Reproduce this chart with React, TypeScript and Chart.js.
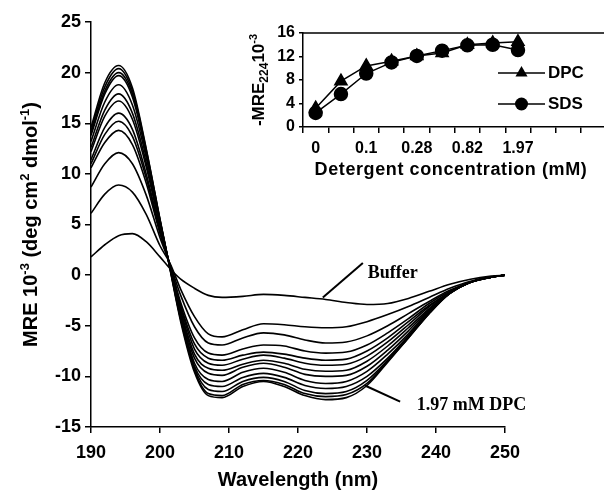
import React, { useEffect, useRef } from 'react';
import { Chart, registerables } from 'chart.js';
Chart.register(...registerables);

// ---------- Main CD spectra ----------
const wavelengths = [190, 192, 194, 196, 198, 200, 201.5, 203, 205, 207, 209, 212, 215, 218, 221, 224, 227, 230, 233, 236, 239, 242, 245, 248, 250];

const bufferCurve = [1.8, 3.0, 3.9, 4.1, 3.3, 1.8, 0.6, -0.4, -1.3, -2.0, -2.2, -2.1, -1.9, -2.0, -2.2, -2.4, -2.7, -2.9, -2.8, -2.3, -1.6, -0.9, -0.4, -0.1, 0];
const curve1 = [6.1, 8.0, 8.9, 8.2, 6.0, 2.9, 1.1, -1.4, -4.1, -5.8, -6.1, -5.4, -4.8, -4.9, -5.1, -5.2, -5.1, -4.6, -3.9, -3.1, -2.2, -1.3, -0.6, -0.2, 0];
const curve2 = [8.7, 11.0, 12.1, 11.0, 7.9, 3.7, 1.0, -2.0, -5.1, -6.7, -6.9, -6.2, -5.7, -5.9, -6.4, -6.7, -6.6, -6.0, -5.0, -3.8, -2.6, -1.5, -0.7, -0.2, 0];
const curve3 = [10.6, 13.1, 14.3, 12.9, 9.1, 4.1, 0.9, -2.7, -6.2, -7.7, -7.9, -7.3, -6.9, -7.0, -7.5, -7.7, -7.6, -6.9, -5.7, -4.3, -2.8, -1.6, -0.7, -0.2, 0];
const curve4 = [11.0, 13.9, 15.2, 13.7, 9.6, 4.3, 0.8, -3.0, -6.8, -8.2, -8.4, -7.9, -7.6, -7.8, -8.2, -8.4, -8.3, -7.5, -6.2, -4.6, -3.0, -1.7, -0.7, -0.2, 0];
const curve5 = [11.4, 14.6, 16.0, 14.4, 10.0, 4.5, 0.8, -3.2, -7.3, -8.7, -8.9, -8.3, -7.9, -8.2, -8.7, -8.9, -8.8, -8.0, -6.6, -4.9, -3.1, -1.7, -0.7, -0.2, 0];
const curve6 = [12.2, 15.7, 17.2, 15.4, 10.7, 4.8, 0.7, -3.5, -7.8, -9.2, -9.4, -8.8, -8.4, -8.7, -9.3, -9.5, -9.4, -8.5, -7.0, -5.2, -3.3, -1.7, -0.7, -0.2, 0];
const curve7 = [12.6, 16.3, 17.9, 16.0, 11.1, 5.0, 0.7, -3.7, -8.2, -9.7, -9.9, -9.1, -8.7, -9.1, -9.8, -10.0, -9.9, -9.0, -7.4, -5.5, -3.4, -1.8, -0.7, -0.2, 0];
const curve8 = [13.2, 17.1, 18.8, 16.8, 11.6, 5.2, 0.6, -3.9, -8.7, -10.3, -10.5, -9.6, -9.2, -9.6, -10.4, -10.7, -10.5, -9.5, -7.8, -5.8, -3.5, -1.8, -0.7, -0.2, 0];
const curve9 = [13.8, 17.9, 19.7, 17.6, 12.0, 5.3, 0.6, -4.1, -9.0, -10.8, -11.0, -10.1, -9.7, -10.1, -10.9, -11.2, -11.0, -10.0, -8.2, -6.0, -3.6, -1.8, -0.7, -0.2, 0];
const curve10 = [14.0, 18.2, 20.0, 17.9, 12.2, 5.4, 0.5, -4.3, -9.2, -11.3, -11.5, -10.5, -10.1, -10.5, -11.4, -11.7, -11.5, -10.4, -8.4, -6.1, -3.7, -1.8, -0.7, -0.2, 0];
const curve11 = [14.3, 18.6, 20.4, 18.2, 12.4, 5.5, 0.5, -4.4, -9.4, -11.7, -11.9, -10.8, -10.4, -10.8, -11.7, -12.0, -11.8, -10.7, -8.5, -6.2, -3.8, -1.8, -0.7, -0.2, 0];
const curveDPC197 = [14.6, 19.0, 20.7, 18.5, 12.5, 5.5, 0.4, -4.6, -9.6, -11.9, -12.1, -11.0, -10.5, -11.0, -11.9, -12.3, -12.1, -10.9, -8.6, -6.2, -3.8, -1.8, -0.7, -0.2, 0];

const spectra = [bufferCurve, curve1, curve2, curve3, curve4, curve5, curve6, curve7, curve8, curve9, curve10, curve11, curveDPC197];

const mainXTicks = [190, 200, 210, 220, 230, 240, 250];
const mainYTicks = [-15, -10, -5, 0, 5, 10, 15, 20, 25];

// ---------- Inset ----------
const insetLabels = ['0', '', '0.1', '', '0.28', '', '0.82', '', '1.97', '', '', ''];
const dpcValues = [3.2, 7.8, 10.4, 11.2, 12.1, 12.6, 14.0, 14.3, 14.5];
const sdsValues = [2.4, 5.6, 9.1, 11.0, 12.1, 13.0, 13.9, 14.0, 13.1];
const insetYTicks = [0, 4, 8, 12, 16];

const SANS = '"Liberation Sans", Arial, sans-serif';
const SERIF = '"Liberation Serif", "Times New Roman", serif';

type Part = { t: string; size: number; dy: number };

function drawRich(ctx: CanvasRenderingContext2D, parts: Part[], cx: number, cy: number, rotate: boolean, baseSize: number) {
  ctx.save();
  ctx.translate(cx, cy);
  if (rotate) ctx.rotate(-Math.PI / 2);
  let total = 0;
  const widths: number[] = [];
  for (const p of parts) {
    ctx.font = `bold ${p.size}px ${SANS}`;
    const w = ctx.measureText(p.t).width;
    widths.push(w);
    total += w;
  }
  let x = -total / 2;
  ctx.textAlign = 'left';
  ctx.textBaseline = 'alphabetic';
  ctx.fillStyle = '#000';
  parts.forEach((p, i) => {
    ctx.font = `bold ${p.size}px ${SANS}`;
    ctx.fillText(p.t, x, baseSize * 0.36 + p.dy);
    x += widths[i];
  });
  ctx.restore();
}

const annotations = [
  { text: 'Buffer', from: [223.6, -2.2], to: [229.4, 1.2], at: [230.1, 0.2] },
  { text: '1.97 mM DPC', from: [229.7, -10.9], to: [234.8, -12.5], at: [237.2, -12.85] },
];

const mainDecor = {
  id: 'mainDecor',
  afterDraw(chart: any) {
    const { ctx, chartArea, scales } = chart;
    const xs = scales.x, ys = scales.y;
    ctx.save();
    ctx.fillStyle = '#000';
    ctx.font = `bold 20px ${SANS}`;
    ctx.textAlign = 'center';
    ctx.textBaseline = 'middle';
    ctx.fillText('Wavelength (nm)', (chartArea.left + chartArea.right) / 2, chartArea.bottom + 53);
    ctx.restore();
    drawRich(ctx, [
      { t: 'MRE 10', size: 20, dy: 0 },
      { t: '-3', size: 13, dy: -8 },
      { t: ' (deg cm', size: 20, dy: 0 },
      { t: '2', size: 13, dy: -8 },
      { t: ' dmol', size: 20, dy: 0 },
      { t: '-1', size: 13, dy: -8 },
      { t: ')', size: 20, dy: 0 },
    ], 30, (chartArea.top + chartArea.bottom) / 2, true, 20);
    ctx.save();
    ctx.strokeStyle = '#000';
    ctx.lineWidth = 2;
    ctx.fillStyle = '#000';
    ctx.font = `bold 18px ${SERIF}`;
    ctx.textAlign = 'left';
    ctx.textBaseline = 'middle';
    for (const a of annotations) {
      ctx.beginPath();
      ctx.moveTo(xs.getPixelForValue(a.from[0]), ys.getPixelForValue(a.from[1]));
      ctx.lineTo(xs.getPixelForValue(a.to[0]), ys.getPixelForValue(a.to[1]));
      ctx.stroke();
      ctx.fillText(a.text, xs.getPixelForValue(a.at[0]), ys.getPixelForValue(a.at[1]));
    }
    ctx.restore();
  },
};

const insetDecor = {
  id: 'insetDecor',
  afterDraw(chart: any) {
    const { ctx, chartArea } = chart;
    ctx.save();
    ctx.strokeStyle = '#000';
    ctx.lineWidth = 1.5;
    ctx.beginPath();
    ctx.moveTo(chartArea.left, chartArea.top);
    ctx.lineTo(chartArea.right, chartArea.top);
    ctx.lineTo(chartArea.right, chartArea.bottom);
    ctx.stroke();
    ctx.fillStyle = '#000';
    ctx.font = `bold 18px ${SANS}`;
    (ctx as any).letterSpacing = '0.6px';
    ctx.textAlign = 'center';
    ctx.textBaseline = 'middle';
    ctx.fillText('Detergent concentration (mM)', chartArea.left + 148, chartArea.bottom + 43);
    ctx.restore();
    drawRich(ctx, [
      { t: '-MRE', size: 17, dy: 0 },
      { t: '224', size: 12, dy: 4 },
      { t: '10', size: 17, dy: 0 },
      { t: '-3', size: 11, dy: -7 },
    ], 33, (chartArea.top + chartArea.bottom) / 2, true, 17);
    const items = [
      { label: chart.data.datasets[0].label, style: 'triangle', dy: 40 },
      { label: chart.data.datasets[1].label, style: 'circle', dy: 71 },
    ];
    ctx.save();
    for (const it of items) {
      const y = chartArea.top + it.dy;
      const x0 = chartArea.left + 195, x1 = chartArea.left + 242, xm = (x0 + x1) / 2;
      ctx.strokeStyle = '#000';
      ctx.lineWidth = 1.5;
      ctx.beginPath();
      ctx.moveTo(x0, y);
      ctx.lineTo(x1, y);
      ctx.stroke();
      ctx.fillStyle = '#000';
      ctx.beginPath();
      if (it.style === 'triangle') {
        const r = 7;
        ctx.moveTo(xm, y - r);
        ctx.lineTo(xm + r * 0.866, y + r * 0.5);
        ctx.lineTo(xm - r * 0.866, y + r * 0.5);
        ctx.closePath();
      } else {
        ctx.arc(xm, y, 6.5, 0, Math.PI * 2);
      }
      ctx.fill();
      ctx.font = `bold 17px ${SANS}`;
      ctx.textAlign = 'left';
      ctx.textBaseline = 'middle';
      ctx.fillText(it.label, chartArea.left + 245, y);
    }
    ctx.restore();
  },
};

export default function App() {
  const mainRef = useRef<HTMLCanvasElement>(null);
  const insetRef = useRef<HTMLCanvasElement>(null);

  useEffect(() => {
    const tickFont = { family: SANS, size: 18, weight: 'bold' as const };
    const main = new Chart(mainRef.current!, {
      type: 'line',
      data: {
        datasets: spectra.map((s, i) => ({
          label: i === 0 ? 'Buffer' : `c${i}`,
          data: wavelengths.map((w, j) => ({ x: w, y: s[j] })),
          borderColor: '#000',
          borderWidth: 1.6,
          pointRadius: 0,
          fill: false,
          cubicInterpolationMode: 'monotone' as const,
        })),
      },
      options: {
        responsive: false,
        animation: false,
        layout: { padding: { left: 0, top: 22, right: 99, bottom: 0 } },
        plugins: { legend: { display: false }, tooltip: { enabled: false } },
        scales: {
          x: {
            type: 'linear',
            min: 190,
            max: 250,
            afterBuildTicks: (s: any) => { s.ticks = mainXTicks.map((v) => ({ value: v })); },
            afterFit: (s: any) => { s.height = 63; },
            grid: { drawOnChartArea: false, drawTicks: true, tickLength: 6, color: '#000', lineWidth: 1.5 },
            border: { display: true, color: '#000', width: 1.5 },
            ticks: { color: '#000', font: tickFont, padding: 9, maxRotation: 0, autoSkip: false },
          },
          y: {
            type: 'linear',
            min: -15,
            max: 25,
            afterBuildTicks: (s: any) => { s.ticks = mainYTicks.map((v) => ({ value: v })); },
            afterFit: (s: any) => { s.width = 91; },
            grid: { drawOnChartArea: false, drawTicks: true, tickLength: 6, color: '#000', lineWidth: 1.5 },
            border: { display: true, color: '#000', width: 1.5 },
            ticks: { color: '#000', font: tickFont, padding: 4, autoSkip: false },
          },
        },
      },
      plugins: [mainDecor],
    } as any);

    const insetFont = { family: SANS, size: 16, weight: 'bold' as const };
    const inset = new Chart(insetRef.current!, {
      type: 'line',
      data: {
        labels: insetLabels,
        datasets: [
          {
            label: 'DPC',
            data: dpcValues,
            borderColor: '#000',
            backgroundColor: '#000',
            borderWidth: 1.5,
            pointStyle: 'triangle',
            pointRadius: 7,
            tension: 0,
          },
          {
            label: 'SDS',
            data: sdsValues,
            borderColor: '#000',
            backgroundColor: '#000',
            borderWidth: 1.5,
            pointStyle: 'circle',
            pointRadius: 6.5,
            tension: 0,
          },
        ],
      },
      options: {
        responsive: false,
        animation: false,
        layout: { padding: { left: 0, top: 18, right: 8, bottom: 0 } },
        plugins: { legend: { display: false }, tooltip: { enabled: false } },
        scales: {
          x: {
            type: 'category',
            offset: true,
            afterFit: (s: any) => { s.height = 58; },
            grid: { offset: true, drawOnChartArea: false, drawTicks: true, tickLength: 6, color: '#000', lineWidth: 1.5 },
            border: { display: true, color: '#000', width: 1.5 },
            ticks: { color: '#000', font: insetFont, padding: 6, maxRotation: 0, autoSkip: false },
          },
          y: {
            type: 'linear',
            min: 0,
            max: 16,
            afterBuildTicks: (s: any) => { s.ticks = insetYTicks.map((v) => ({ value: v })); },
            afterFit: (s: any) => { s.width = 78; },
            grid: { drawOnChartArea: false, drawTicks: true, tickLength: 4, color: '#000', lineWidth: 1.5 },
            border: { display: true, color: '#000', width: 1.5 },
            ticks: { color: '#000', font: insetFont, padding: 4, autoSkip: false },
          },
        },
      },
      plugins: [insetDecor],
    } as any);

    return () => {
      main.destroy();
      inset.destroy();
    };
  }, []);

  return (
    <div style={{ position: 'fixed', left: 0, top: 0, width: 604, height: 490, overflow: 'hidden', background: '#fff' }}>
      <canvas ref={mainRef} width={604} height={490} style={{ position: 'absolute', left: 0, top: 0, width: 604, height: 490 }} />
      <canvas ref={insetRef} width={390} height={170} style={{ position: 'absolute', left: 225, top: 15, width: 390, height: 170 }} />
    </div>
  );
}
